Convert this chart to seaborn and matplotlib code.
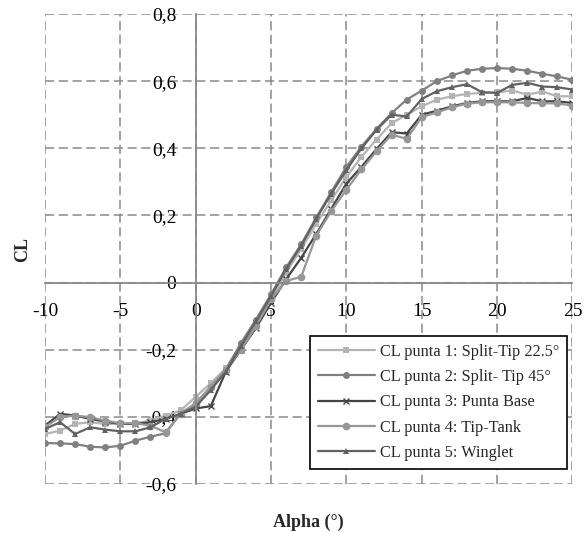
import matplotlib
matplotlib.use("Agg")
import matplotlib.pyplot as plt
import seaborn as sns
import pandas as pd

# angle of attack (deg)
alpha = list(range(-10, 26))

# CL values
cl_punta1 = [-0.451, -0.441, -0.421, -0.416, -0.421, -0.421, -0.419, -0.411, -0.396, -0.381,
             -0.340, -0.300, -0.255, -0.185, -0.120, -0.050, 0.030, 0.100, 0.175, 0.245,
             0.315, 0.375, 0.426, 0.475, 0.500, 0.525, 0.545, 0.555, 0.562, 0.565,
             0.567, 0.572, 0.560, 0.569, 0.555, 0.555]
cl_punta2 = [-0.478, -0.479, -0.481, -0.489, -0.491, -0.486, -0.471, -0.459, -0.449, -0.390,
             -0.360, -0.310, -0.260, -0.180, -0.110, -0.035, 0.045, 0.114, 0.194, 0.270,
             0.345, 0.405, 0.458, 0.505, 0.545, 0.572, 0.600, 0.617, 0.631, 0.637,
             0.639, 0.637, 0.631, 0.622, 0.614, 0.604]
cl_punta3 = [-0.426, -0.391, -0.396, -0.406, -0.414, -0.421, -0.421, -0.416, -0.406, -0.391,
             -0.375, -0.368, -0.265, -0.200, -0.135, -0.060, 0.010, 0.074, 0.145, 0.220,
             0.295, 0.345, 0.398, 0.448, 0.444, 0.500, 0.512, 0.525, 0.535, 0.540,
             0.540, 0.540, 0.550, 0.540, 0.540, 0.535]
cl_punta4 = [-0.430, -0.401, -0.396, -0.401, -0.411, -0.419, -0.419, -0.426, -0.446, -0.390,
             -0.360, -0.310, -0.260, -0.200, -0.130, -0.050, 0.005, 0.017, 0.140, 0.213,
             0.277, 0.337, 0.391, 0.441, 0.428, 0.493, 0.507, 0.522, 0.533, 0.537,
             0.537, 0.537, 0.535, 0.534, 0.534, 0.527]
cl_punta5 = [-0.436, -0.416, -0.451, -0.431, -0.438, -0.443, -0.443, -0.431, -0.406, -0.391,
             -0.370, -0.320, -0.265, -0.190, -0.115, -0.040, 0.040, 0.110, 0.190, 0.265,
             0.335, 0.400, 0.455, 0.500, 0.495, 0.547, 0.570, 0.582, 0.591, 0.567,
             0.565, 0.589, 0.595, 0.584, 0.582, 0.575]

series_names = ["CL punta 1: Split-Tip 22.5°", "CL punta 2: Split- Tip 45°",
                "CL punta 3: Punta Base", "CL punta 4: Tip-Tank", "CL punta 5: Winglet"]
series_values = [cl_punta1, cl_punta2, cl_punta3, cl_punta4, cl_punta5]

x_ticks = [-10, -5, 0, 5, 10, 15, 20, 25]
x_ticklabels = ["-10", "-5", "0", "5", "10", "15", "20", "25"]
y_ticks = [-0.6, -0.4, -0.2, 0, 0.2, 0.4, 0.6, 0.8]
y_ticklabels = ["-0,6", "-0,4", "-0,2", "0", "0,2", "0,4", "0,6", "0,8"]

df = pd.concat(
    [pd.DataFrame({"Alpha": alpha, "CL": vals, "Serie": name})
     for name, vals in zip(series_names, series_values)],
    ignore_index=True,
)

sns.set_style("white")
plt.rcParams["font.family"] = ["Liberation Serif", "DejaVu Serif"]

# grayscale styling like the Excel original
colors = ["#b4b4b4", "#808080", "#454545", "#979797", "#626262"]
markers = ["s", "o", "x", "o", "^"]
msizes = [5, 5, 4, 5.5, 5]

fig = plt.figure(figsize=(5.85, 5.33), dpi=100)
ax = fig.add_axes([0.0769, 0.0919, 0.9017, 0.8818])

for name, c, m, ms in zip(series_names, colors, markers, msizes):
    sns.lineplot(
        data=df[df["Serie"] == name], x="Alpha", y="CL",
        color=c, marker=m, markersize=ms, linewidth=1.6,
        markeredgecolor=c, markeredgewidth=1.0 if m == "x" else 0,
        label=name, ax=ax, estimator=None,
    )

ax.set_xlim(-10, 25)
ax.set_ylim(-0.6, 0.8)

grid_kw = dict(color="#8a8a8a", linewidth=1.1, linestyle=(0, (6, 3)))
ax.grid(True, **grid_kw)
ax.set_axisbelow(True)
for gl in ax.get_xgridlines() + ax.get_ygridlines():
    gl.set_clip_on(False)

for side in ["top", "right"]:
    ax.spines[side].set_visible(False)
ax.spines["left"].set_position(("data", 0))
ax.spines["bottom"].set_position(("data", 0))
for side in ["left", "bottom"]:
    ax.spines[side].set_color("#8a8a8a")
    ax.spines[side].set_linewidth(1.3)

ax.set_xticks(x_ticks, x_ticklabels)
ax.set_yticks(y_ticks, y_ticklabels)
ax.tick_params(axis="both", direction="inout", length=6, width=1.0,
               color="#8a8a8a", labelsize=14, labelcolor="black")
ax.tick_params(axis="y", pad=11)
ax.tick_params(axis="x", pad=12)

ax.set_xlabel("Alpha (°)", fontsize=13, fontweight="bold")
ax.set_ylabel("CL", fontsize=13, fontweight="bold")
ax.xaxis.set_label_coords(0.5, -0.063)
ax.yaxis.set_label_coords(-0.027, 0.5)

leg = ax.legend(
    loc="upper left", bbox_to_anchor=(0.502, 0.3155),
    fontsize=11.7, frameon=True, fancybox=False, edgecolor="black",
    framealpha=1, borderpad=0.5, labelspacing=0.57,
    handlelength=3.5, handletextpad=0.3, borderaxespad=0,
)
leg.get_frame().set_linewidth(1.2)

fig.savefig("out.png", dpi=100)
